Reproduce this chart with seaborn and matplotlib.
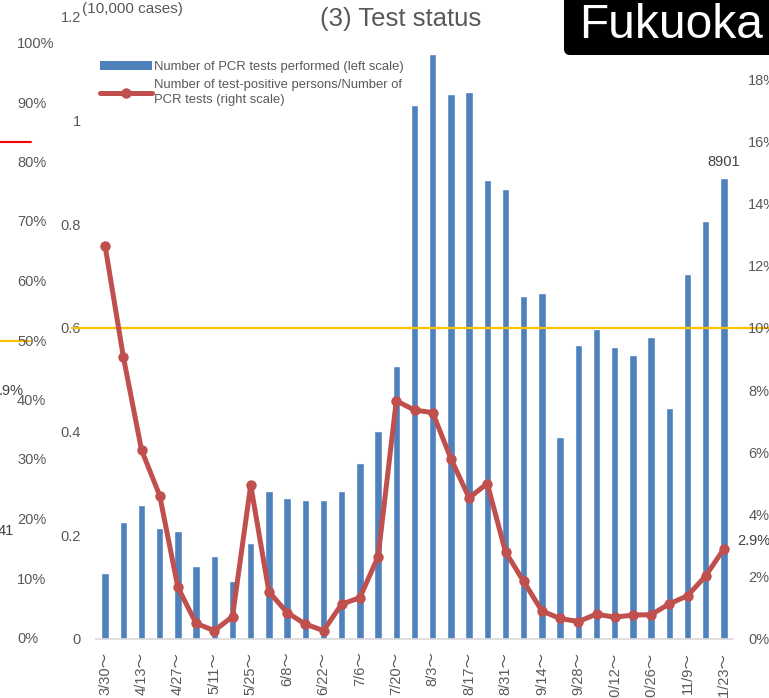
import numpy as np
import pandas as pd
import matplotlib
matplotlib.use("Agg")
import matplotlib.pyplot as plt
import seaborn as sns
from matplotlib.patches import FancyBboxPatch, Patch
from matplotlib.lines import Line2D
from matplotlib.transforms import IdentityTransform

# Weekly periods (week starting)
weeks = ["3/30", "4/6", "4/13", "4/20", "4/27", "5/4", "5/11", "5/18", "5/25",
         "6/1", "6/8", "6/15", "6/22", "6/29", "7/6", "7/13", "7/20", "7/27",
         "8/3", "8/10", "8/17", "8/24", "8/31", "9/7", "9/14", "9/21", "9/28",
         "10/5", "10/12", "10/19", "10/26", "11/2", "11/9", "11/16", "11/23"]

# Number of PCR tests performed per week
pcr_tests = [1270, 2250, 2580, 2140, 2090, 1400, 1600, 1120, 1850,
             2860, 2720, 2680, 2680, 2860, 3390, 4010, 5270, 10300,
             11280, 10510, 10550, 8850, 8680, 6620, 6680, 3900, 5680,
             5980, 5640, 5470, 5820, 4450, 7050, 8070, 8901]

# Positive persons / PCR tests (%)
positive_rate = [12.64, 9.08, 6.08, 4.61, 1.66, 0.50, 0.27, 0.72, 4.95,
                 1.52, 0.85, 0.48, 0.27, 1.12, 1.33, 2.65, 7.66, 7.36,
                 7.28, 5.80, 4.54, 5.00, 2.80, 1.85, 0.90, 0.66, 0.56,
                 0.80, 0.70, 0.77, 0.78, 1.13, 1.39, 2.03, 2.9]

left_ticks = [0, 0.2, 0.4, 0.6, 0.8, 1.0, 1.2]
left_tick_labels = ["0", "0.2", "0.4", "0.6", "0.8", "1", "1.2"]
right_ticks = [0, 2, 4, 6, 8, 10, 12, 14, 16, 18]
reference_level = 0.6  # left scale (= 10% on right scale)

BAR_BLUE = "#4F81BD"
LINE_RED = "#C0504D"
GOLD = "#FFC000"
GREY = "#595959"

sns.set_theme(style="white")
plt.rcParams["font.family"] = ["Liberation Sans", "Noto Sans CJK JP", "DejaVu Sans"]

W, H = 769, 698
fig = plt.figure(figsize=(W / 100, H / 100), dpi=100)
L, R, B, T = 96, 733, 639, 17
ax = fig.add_axes([L / W, 1 - B / H, (R - L) / W, (B - T) / H])

df = pd.DataFrame({
    "week": weeks,
    "tests": np.array(pcr_tests) / 10000.0,
    "rate": positive_rate,
    "pos": np.arange(len(weeks)),
})

sns.barplot(data=df, x="week", y="tests", color=BAR_BLUE, saturation=1,
            width=0.4, ax=ax, zorder=2)
ax.set_xlim(-0.5, len(weeks) - 0.5)
ax.set_ylim(0, 1.2)
ax.set_xlabel("")
ax.set_ylabel("")
ax.set_yticks(left_ticks)
ax.set_yticklabels(left_tick_labels)
ax.set_xticks(range(0, len(weeks), 2))
ax.set_xticklabels([w + "～" for w in weeks[::2]], rotation=90, va="top", ha="center")
ax.tick_params(axis="both", length=0, labelsize=10.5, labelcolor=GREY)
ax.tick_params(axis="y", pad=11)
ax.tick_params(axis="x", pad=9)
for s in ["left", "right", "top"]:
    ax.spines[s].set_visible(False)
ax.spines["bottom"].set_color("#D9D9D9")
ax.spines["bottom"].set_linewidth(1.2)
ax.grid(False)

# reference level line across the plot
ax.axhline(reference_level, xmin=-0.038, xmax=1.06, clip_on=False,
           color=GOLD, lw=1.6, zorder=3)

ax.annotate(f"{pcr_tests[-1]}", xy=(len(weeks) - 1, pcr_tests[-1] / 10000.0),
            xytext=(0, 6), textcoords="offset points", ha="center", va="bottom",
            fontsize=10.5, color="#404040")

ax2 = ax.twinx()
sns.lineplot(data=df, x="pos", y="rate", ax=ax2, color=LINE_RED, lw=3.6,
             marker="o", markersize=7.5, markeredgewidth=0, zorder=4)
ax2.set_ylim(0, 20)
ax2.set_ylabel("")
ax2.set_xlabel("")
ax2.set_yticks(right_ticks)
ax2.set_yticklabels([f"{v}%" for v in right_ticks])
ax2.tick_params(axis="y", length=0, labelsize=10.5, labelcolor=GREY, pad=11)
for s in ax2.spines.values():
    s.set_visible(False)
ax2.grid(False)
ax2.annotate(f"{positive_rate[-1]}%", xy=(len(weeks) - 1, positive_rate[-1]),
             xytext=(9.5, 5.5), textcoords="offset points", ha="left", va="center",
             fontsize=10.5, color="#404040", annotation_clip=False)

# legend
handles = [Patch(facecolor=BAR_BLUE, edgecolor="none"),
           Line2D([], [], color=LINE_RED, lw=3.6, marker="o", markersize=7.5,
                  markeredgewidth=0)]
labels = ["Number of PCR tests performed (left scale)",
          "Number of test-positive persons/Number of\nPCR tests (right scale)"]
leg = fig.legend(handles, labels, loc="upper left",
                 bbox_to_anchor=(100 / W, 1 - 61 / H),
                 frameon=False, fontsize=9.4, handlelength=4.0, handleheight=0.6,
                 handletextpad=0.15, labelspacing=0.45, borderpad=0, borderaxespad=0,
                 labelcolor=GREY)
for t in leg.get_texts():
    t.set_linespacing(1.4)

# titles
fig.text(401 / W, 1 - 26 / H, "(3) Test status", ha="center", va="baseline",
         fontsize=18.5, color=GREY)
fig.text(82 / W, 1 - 13 / H, "(10,000 cases)", ha="left", va="baseline",
         fontsize=11, color=GREY)

box = FancyBboxPatch((564, H - 55), 260, 120,
                     boxstyle="round,pad=0,rounding_size=6",
                     transform=IdentityTransform(), facecolor="black",
                     edgecolor="none", zorder=10)
fig.add_artist(box)
fig.text(671 / W, 1 - 38 / H, "Fukuoka", ha="center", va="baseline",
         fontsize=34.5, color="white", zorder=11)

# partial axis of the neighbouring panel at the left edge
for i, pct in enumerate(range(100, -1, -10)):
    y = 44 + i * 59.5
    fig.text(17 / W, 1 - y / H, f"{pct}%", ha="left", va="center",
             fontsize=10.5, color=GREY)
fig.add_artist(Line2D([0, 31 / W], [1 - 142 / H, 1 - 142 / H],
                      transform=fig.transFigure, color="#FF0000", lw=1.5))
fig.add_artist(Line2D([0, 30 / W], [1 - 341 / H, 1 - 341 / H],
                      transform=fig.transFigure, color=GOLD, lw=1.6))
fig.text(24 / W, 1 - 391 / H, ".9%", ha="right", va="center", fontsize=10.5,
         color="#404040")
fig.text(14 / W, 1 - 531 / H, "41", ha="right", va="center", fontsize=10.5,
         color="#404040")

fig.savefig("out.png", dpi=100)
